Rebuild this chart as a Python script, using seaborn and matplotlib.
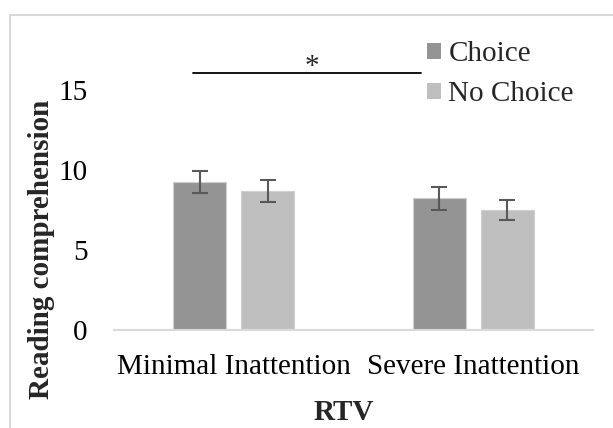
import matplotlib
matplotlib.use("Agg")
import matplotlib.pyplot as plt
import matplotlib.patches as mpatches
import seaborn as sns
import pandas as pd

# ---- data ----
categories = ["Minimal Inattention", "Severe Inattention"]
groups = ["Choice", "No Choice"]
choice_vals = [9.25, 8.22]
nochoice_vals = [8.69, 7.50]
choice_err = [0.69, 0.69]
nochoice_err = [0.69, 0.62]
yticks = [0, 5, 10, 15]

df = pd.DataFrame({
    "RTV": categories * 2,
    "group": [groups[0]] * 2 + [groups[1]] * 2,
    "value": choice_vals + nochoice_vals,
})
errs = {groups[0]: choice_err, groups[1]: nochoice_err}

sns.set_theme(style="white")
plt.rcParams["font.family"] = ["Liberation Serif", "DejaVu Serif"]
FS = 21

W, H = 613, 428
fig = plt.figure(figsize=(W / 100, H / 100), dpi=100)
ax = fig.add_axes([114 / W, (H - 330) / H, 479 / W, 288 / H])

palette = {"Choice": "#949494", "No Choice": "#bfbfbf"}
sns.barplot(data=df, x="RTV", y="value", hue="group", order=categories,
            hue_order=groups, palette=palette, width=0.568, gap=0.22,
            errorbar=None, ax=ax, saturation=1, edgecolor="#d0d0d0",
            linewidth=0.8)

for cont, g in zip(ax.containers, groups):
    xs = [p.get_x() + p.get_width() / 2 for p in cont]
    hs = [p.get_height() for p in cont]
    ax.errorbar(xs, hs, yerr=errs[g], fmt="none", ecolor="#595959",
                elinewidth=1.5, capsize=6, capthick=1.5, zorder=5)

ax.set_xlim(-0.5, 1.5)
ax.set_ylim(0, 18)
ax.set_yticks(yticks)
ax.set_yticklabels([str(v) for v in yticks])
ax.tick_params(axis="both", length=0, labelsize=FS, colors="black")
ax.tick_params(axis="y", pad=19)
ax.tick_params(axis="x", pad=17.5)
for s in ["top", "right", "left"]:
    ax.spines[s].set_visible(False)
ax.spines["bottom"].set_color("#d9d9d9")
ax.spines["bottom"].set_linewidth(1.5)

ax.set_xlabel("RTV", fontsize=FS, fontweight="bold")
ax.set_ylabel("Reading comprehension", fontsize=FS, fontweight="bold")
ax.xaxis.set_label_coords((344 - 114) / 479, (330 - 399) / 288)
ax.yaxis.set_label_coords((55 - 114) / 479, (330 - 249) / 288)

# significance bar
ax.plot([-0.17, 0.782], [16.06, 16.06], color="black", lw=1.3,
        clip_on=False)
ax.text(0.327, 15.6, "*", fontsize=FS, ha="center", va="bottom")

leg = ax.legend(loc="upper left", bbox_to_anchor=(427 / W, (H - 41) / H),
                bbox_transform=fig.transFigure, frameon=False, fontsize=FS,
                handlelength=0.48, handleheight=0.48, handletextpad=0.25,
                labelspacing=0.48, borderpad=0, borderaxespad=0)
for h in leg.legend_handles:
    h.set_edgecolor("none")

# chart border
fig.patches.append(mpatches.Rectangle((10 / W, -0.1), 1.2, (H - 15) / H + 0.1,
                                      transform=fig.transFigure, fill=False,
                                      edgecolor="#d9d9d9", lw=1.5))

fig.savefig("out.png", dpi=100)
